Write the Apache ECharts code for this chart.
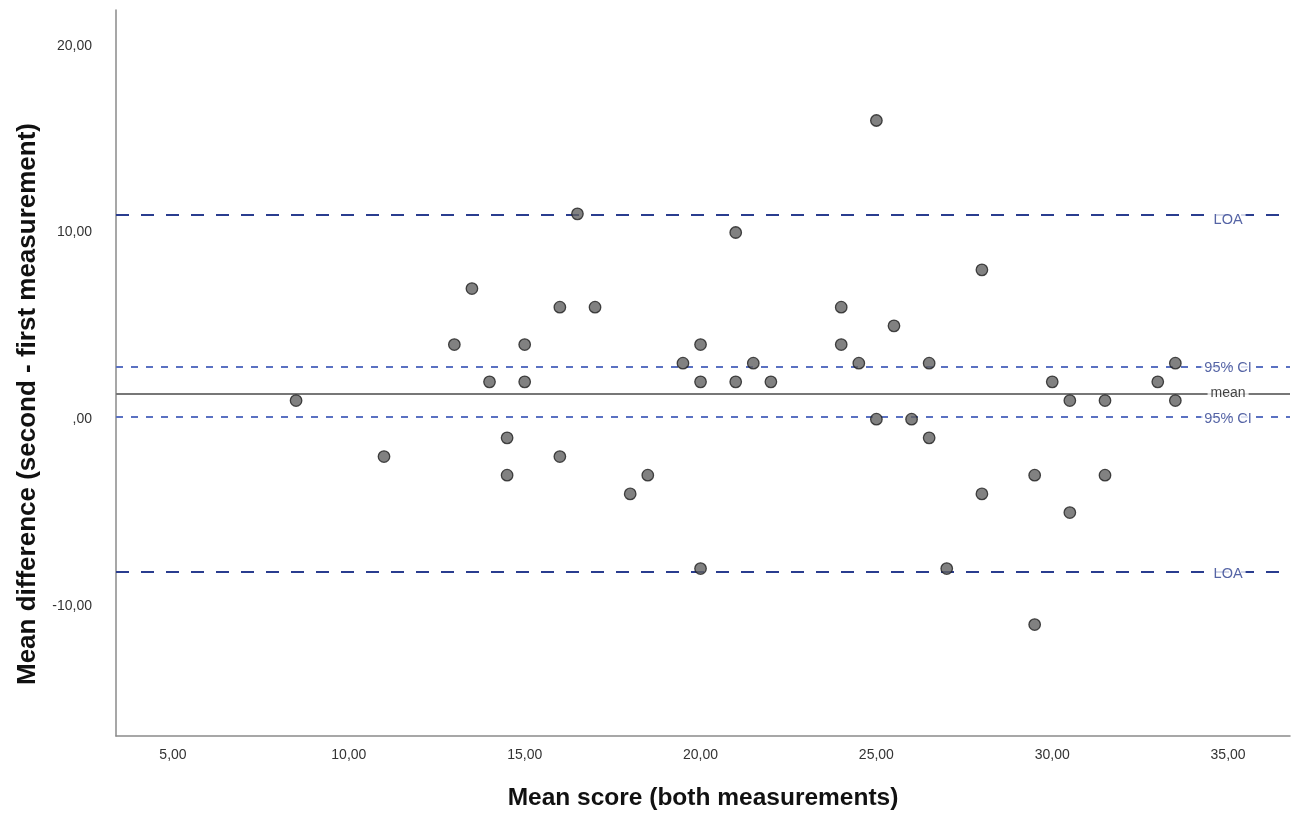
<!DOCTYPE html>
<html>
<head>
<meta charset="utf-8">
<script src="https://cdn.jsdelivr.net/npm/echarts@6/dist/echarts.min.js"></script>
<style>
html,body{margin:0;padding:0;background:#fff;}
#chart{width:1293px;height:816px;}
</style>
</head>
<body>
<div id="chart"></div>
<script>
// Data
const meanScores = [8.5,11,13,13.5,14,14.5,14.5,15,15,16,16,16.5,17,18,18.5,19.5,20,20,20,21,21,21.5,22,24,24,24.5,25,25,25.5,26,26.5,26.5,27,28,28,29.5,29.5,30,30.5,30.5,31.5,31.5,33,33.5,33.5];
const meanDiffs  = [1,-2,4,7,2,-1,-3,4,2,6,-2,11,6,-4,-3,3,4,2,-8,10,2,3,2,6,4,3,16,0,5,0,3,-1,-8,8,-4,-3,-11,2,1,-5,1,-3,2,3,1];
const loaUpper = 10.93;
const ciUpper = 2.8;
const meanDiff = 1.38;
const ciLower = 0.15;
const loaLower = -8.15;
const xTicks = [5,10,15,20,25,30,35];
const yTicks = [-10,0,10,20];
const xRange = [3.38, 36.76];
const yRange = [-16.97, 21.92];
const labelX = 35;

function fmt(v){
  if (v === 0) return ',00';
  return v.toFixed(2).replace('.', ',');
}

const points = meanScores.map((x,i)=>[x, meanDiffs[i]]);

const FONT = 'Liberation Sans, Arial, sans-serif';
const blueDark = '#2a3d8f';
const blueLight = '#5a71c2';

const chart = echarts.init(document.getElementById('chart'), null, {renderer:'canvas'});
chart.setOption({
  backgroundColor:'#fff',
  animation:false,
  grid:{left:116, right:3, top:10, bottom:76},
  xAxis:{
    type:'value', min:xRange[0], max:xRange[1],
    name:'Mean score (both measurements)',
    nameLocation:'middle', nameGap:50,
    nameTextStyle:{fontFamily:FONT, fontSize:24.5, fontWeight:'bold', color:'#111'},
    axisLine:{show:true, onZero:false, lineStyle:{color:'#8a8a8a', width:1.5}},
    axisTick:{show:false},
    splitLine:{show:false},
    axisLabel:{customValues:xTicks, formatter:fmt, margin:12, fontFamily:FONT, fontSize:14, color:'#333'}
  },
  yAxis:{
    type:'value', min:yRange[0], max:yRange[1],
    name:'Mean difference (second - first measurement)',
    nameLocation:'middle', nameGap:75,
    nameTextStyle:{fontFamily:FONT, fontSize:26, fontWeight:'bold', color:'#111', padding:[0,62,0,0]},
    axisLine:{show:true, onZero:false, lineStyle:{color:'#8a8a8a', width:1.5}},
    axisTick:{show:false},
    splitLine:{show:false},
    axisLabel:{customValues:yTicks, formatter:fmt, margin:24, fontFamily:FONT, fontSize:14, color:'#333'}
  },
  series:[
    {
      type:'line', data:[], silent:true, z:1,
      markLine:{
        silent:true, symbol:'none', label:{show:false}, animation:false,
        data:[
          {yAxis:loaUpper, lineStyle:{color:blueDark, type:[13,12], width:1.8}},
          {yAxis:loaLower, lineStyle:{color:blueDark, type:[13,12], width:1.8}},
          {yAxis:ciUpper, lineStyle:{color:blueLight, type:[7,8], width:2}},
          {yAxis:ciLower, lineStyle:{color:blueLight, type:[7,8], width:2}},
          {yAxis:meanDiff, lineStyle:{color:'#777', type:'solid', width:2.2}}
        ]
      }
    },
    {
      type:'scatter', symbolSize:1, silent:true, z:10,
      itemStyle:{color:'rgba(255,255,255,0)'},
      label:{show:true, position:'inside', fontFamily:FONT, fontSize:14.5,
             backgroundColor:'#ffffff', padding:[1,3],
             formatter:p=>p.data.name},
      data:[
        {name:'LOA', value:[labelX, loaUpper], label:{color:blueDark, offset:[0,5]}},
        {name:'LOA', value:[labelX, loaLower], label:{color:blueDark, offset:[0,3]}},
        {name:'95% CI', value:[labelX, ciUpper], label:{color:blueDark, offset:[0,1]}},
        {name:'95% CI', value:[labelX, ciLower], label:{color:blueDark, offset:[0,3]}},
        {name:'mean', value:[labelX, meanDiff], label:{color:'#111', fontSize:14, offset:[0,0]}}
      ]
    },
    {
      type:'scatter', data:points, symbol:'circle', symbolSize:11.5, z:5,
      itemStyle:{color:'#626262', borderColor:'#1e1e1e', borderWidth:1.3}
    }
  ]
});
</script>
</body>
</html>
